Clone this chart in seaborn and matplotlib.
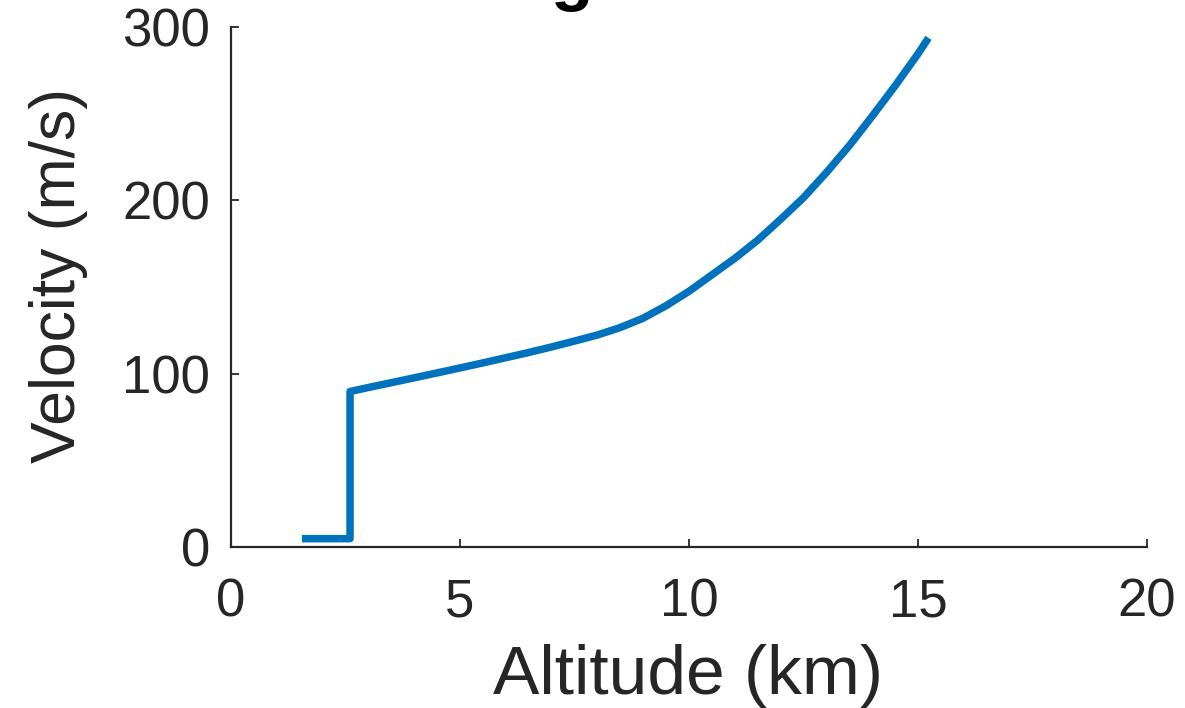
import matplotlib
matplotlib.use("Agg")
import matplotlib.pyplot as plt
import seaborn as sns
import pandas as pd

# Altitude (km) and velocity (m/s) along the ascent
altitude_km = [1.55, 2.6, 2.6, 3.0, 3.5, 4.0, 4.6, 5.0, 5.5, 6.0, 6.5,
               7.0, 7.5, 8.0, 8.5, 9.0, 9.5, 10.0, 10.5, 11.0, 11.5, 12.0,
               12.5, 13.0, 13.5, 14.0, 14.5, 15.0, 15.23]
velocity_ms = [4.8, 4.8, 89.7, 92.0, 94.8, 97.6, 101.0, 103.3, 106.2,
               109.2, 112.2, 115.4, 118.8, 122.3, 126.6, 132.0, 139.2, 147.5,
               157.0, 166.5, 177.0, 189.0, 201.5, 216.0, 231.5, 248.5, 266.0,
               284.5, 293.7]

x_ticks = [0, 5, 10, 15, 20]
y_ticks = [0, 100, 200, 300]

sns.set_theme(style="ticks")
plt.rcParams["font.family"] = ["Liberation Sans", "DejaVu Sans"]

ink = "#262626"
fig = plt.figure(figsize=(11.85, 7.08), dpi=100)
ax = fig.add_axes([0.1949, 0.2274, 0.7730, 0.7345])

df = pd.DataFrame({"Altitude": altitude_km, "Velocity": velocity_ms})
sns.lineplot(data=df, x="Altitude", y="Velocity", ax=ax, sort=False,
             estimator=None, color="#0072BD", linewidth=5.4,
             solid_capstyle="butt", solid_joinstyle="round")

ax.set_xlim(0, 20)
ax.set_ylim(0, 300)
ax.set_xticks(x_ticks)
ax.set_yticks(y_ticks)
ax.set_xticklabels([str(v) for v in x_ticks])
ax.set_yticklabels([str(v) for v in y_ticks])

for side in ("top", "right"):
    ax.spines[side].set_visible(False)
for side in ("left", "bottom"):
    ax.spines[side].set_color(ink)
    ax.spines[side].set_linewidth(1.6)

ax.tick_params(axis="both", direction="in", length=6, width=1.3, color=ink,
               labelcolor=ink, labelsize=38, bottom=True, left=True)
ax.tick_params(axis="x", pad=22)
ax.tick_params(axis="y", pad=15)

ax.set_xlabel("Altitude (km)", fontsize=50, color=ink)
ax.xaxis.label.set_va("baseline")
ax.xaxis.set_label_coords(0.4989, -0.2830)

ax.set_ylabel("Velocity (m/s)", fontsize=45, color=ink)
ax.yaxis.set_label_coords(-0.156, 0.523)

ax.text(0.5, 1.0 + 29 / 520, "Flight Ascent", transform=ax.transAxes,
        ha="center", va="baseline", fontsize=50, fontweight="bold",
        color="black")

fig.savefig("out.png", dpi=100)
